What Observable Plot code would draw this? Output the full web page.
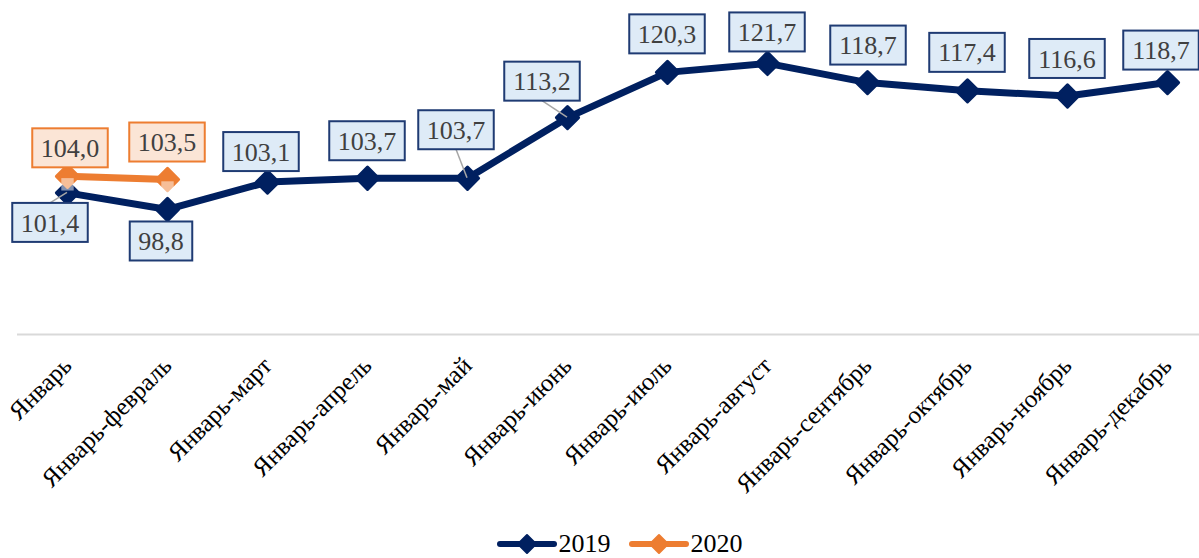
<!DOCTYPE html>
<html>
<head>
<meta charset="utf-8">
<script src="https://cdn.jsdelivr.net/npm/d3@7"></script>
<script src="https://cdn.jsdelivr.net/npm/@observablehq/plot@0.6"></script>
<style>
  html, body { margin: 0; padding: 0; background: #fff; }
  #chart svg { display: block; }
  .legend { display: flex; justify-content: center; align-items: center; height: 28px;
            font-family: "Liberation Serif", "Times New Roman", serif; font-size: 26px; color: #000;
            padding-left: 40px; }
  .legend .item { display: flex; align-items: center; margin: 0 9px; }
  .legend svg { margin-right: 2px; }
</style>
</head>
<body>
<div id="chart"></div>
<script>
const months = ["Январь", "Январь-февраль", "Январь-март", "Январь-апрель", "Январь-май", "Январь-июнь",
  "Январь-июль", "Январь-август", "Январь-сентябрь", "Январь-октябрь", "Январь-ноябрь", "Январь-декабрь"];
const values2019 = [101.4, 98.8, 103.1, 103.7, 103.7, 113.2, 120.3, 121.7, 118.7, 117.4, 116.6, 118.7];
const values2020 = [104.0, 103.5];
const seriesNames = ["2019", "2020"];

// layout of the data labels (pixel offsets of the label box from its point)
const offsets2019 = [[-17, 30], [-6, 32], [-6, -30], [0, -37], [-11, -48], [-25, -36],
  [0, -38], [0, -31], [1, -37], [0, -38], [0, -37], [-6, -32]];
const leaders2019 = [true, false, false, false, true, true, false, false, false, false, false, false];
const offsets2020 = [[3, -28], [0, -37]];
const leaders2020 = [false, false];

const NAVY = "#002060", ORANGE = "#ed7d31";
const FONT = "'Liberation Serif', 'Times New Roman', serif";

const data2019 = months.map((m, i) => ({month: m, value: values2019[i]}));
const data2020 = values2020.map((v, i) => ({month: months[i], value: v}));

const fmt = v => d3.format(".1f")(v).replace(".", ",");
const FS = 26;
const textWidth = s => [...s].reduce((a, c) => a + (c === "," ? 0.25 : 0.5), 0) * FS;

function boxedLabels(data, {fill, stroke, offsets, leaders}) {
  return Plot.text(data, {
    x: "month", y: "value", text: d => fmt(d.value),
    render(index, scales, values) {
      const g = d3.create("svg:g");
      for (const i of index) {
        const px = values.x[i], py = values.y[i];
        const [ox, oy] = offsets[i];
        const cx = px + ox, cy = py + oy;
        const label = fmt(data[i].value);
        const w = textWidth(label) + 17, h = 39;
        if (leaders[i]) {
          const sy = oy > 0 ? cy - h / 2 : cy + h / 2;
          g.append("line").attr("x1", cx).attr("y1", sy).attr("x2", px).attr("y2", py)
            .attr("stroke", "#a6a6a6").attr("stroke-width", 1.5);
        }
        g.append("rect").attr("x", cx - w / 2).attr("y", cy - h / 2).attr("width", w).attr("height", h)
          .attr("fill", fill).attr("stroke", stroke).attr("stroke-width", 2);
        g.append("text").attr("x", cx).attr("y", cy).attr("dy", "0.35em")
          .attr("text-anchor", "middle").attr("fill", "#404040")
          .style("font-family", FONT).attr("font-size", FS).text(label);
      }
      return g.node();
    }
  });
}

const chart = Plot.plot({
  width: 1199,
  height: 530,
  marginTop: 10,
  marginBottom: 196,
  marginLeft: 67,
  marginRight: 32,
  style: {fontFamily: FONT, background: "#fff"},
  x: {type: "point", domain: months, padding: 0, label: null},
  y: {domain: [79.2, 130], axis: null},
  marks: [
    Plot.ruleY([79.2], {stroke: "#d9d9d9", strokeWidth: 2, insetLeft: -50, insetRight: -32}),
    Plot.axisX({tickRotate: -45, tickSize: 0, tickPadding: 27, dx: 0, fontSize: 25, fill: "#000", label: null}),
    Plot.line(data2019, {x: "month", y: "value", stroke: NAVY, strokeWidth: 7, strokeLinejoin: "round"}),
    Plot.dot(data2019, {x: "month", y: "value", symbol: "diamond2", r: 10, fill: NAVY, stroke: NAVY, strokeWidth: 3, strokeLinejoin: "round"}),
    Plot.line(data2020, {x: "month", y: "value", stroke: ORANGE, strokeWidth: 7, strokeLinejoin: "round"}),
    Plot.dot(data2020, {x: "month", y: "value", symbol: "diamond2", r: 10, fill: ORANGE, stroke: ORANGE, strokeWidth: 3, strokeLinejoin: "round"}),
    Plot.dot(data2020, {x: "month", y: "value", symbol: "square", r: 7, dy: 8, fill: "#fff", fillOpacity: 0.5}),
    boxedLabels(data2019, {fill: "#deebf7", stroke: "#1f3b73", offsets: offsets2019, leaders: leaders2019}),
    boxedLabels(data2020, {fill: "#fbe5d6", stroke: ORANGE, offsets: offsets2020, leaders: leaders2020})
  ]
});
document.getElementById("chart").appendChild(chart);

// legend
const legend = d3.select("body").append("div").attr("class", "legend");
[[seriesNames[0], NAVY], [seriesNames[1], ORANGE]].forEach(([name, color]) => {
  const item = legend.append("div").attr("class", "item");
  const s = item.append("svg").attr("width", 60).attr("height", 24);
  s.append("line").attr("x1", 3).attr("x2", 57).attr("y1", 12).attr("y2", 12)
    .attr("stroke", color).attr("stroke-width", 6).attr("stroke-linecap", "round");
  s.append("path").attr("d", "M30,3L39,12L30,21L21,12Z").attr("fill", color)
    .attr("stroke", color).attr("stroke-width", 2).attr("stroke-linejoin", "round");
  item.append("span").text(name);
});
</script>
</body>
</html>
